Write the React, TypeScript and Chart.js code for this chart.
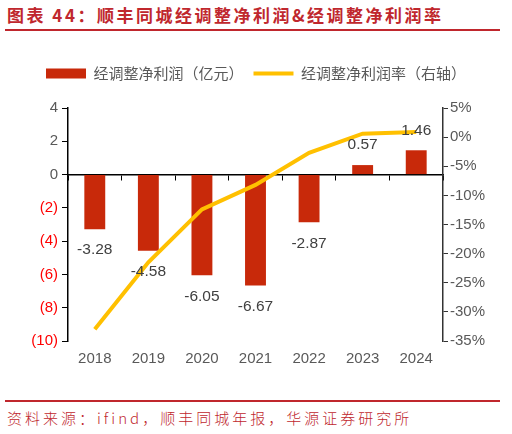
import { useEffect, useRef } from "react";
import { Chart, registerables } from "chart.js";

Chart.register(...registerables);

const years = ["2018", "2019", "2020", "2021", "2022", "2023", "2024"];
const adjNetProfit = [-3.28, -4.58, -6.05, -6.67, -2.87, 0.57, 1.46];
const adjNetMargin = [-33.0, -21.5, -12.4, -8.2, -2.7, 0.6, 0.9];
const profitLabel = "经调整净利润（亿元）";
const marginLabel = "经调整净利润率（右轴）";

const BAR_RED = "#C8290A";
const LINE_GOLD = "#FFC000";
const GRAY = "#595959";
const NUM_FONT = "'Liberation Sans', Arial, sans-serif";
const CJK_FONT = "'Noto Sans CJK SC', 'Noto Sans', sans-serif";

// value labels under negative bars / above positive ones
const barLabels = {
  id: "barLabels",
  afterDatasetsDraw(chart: Chart) {
    const meta = chart.getDatasetMeta(0);
    const ctx = chart.ctx;
    ctx.save();
    ctx.font = `15.5px ${NUM_FONT}`;
    ctx.fillStyle = "#404040";
    ctx.textAlign = "center";
    ctx.textBaseline = "middle";
    meta.data.forEach((el: any, i: number) => {
      const v = adjNetProfit[i];
      const y = v < 0 ? el.y + 21 : el.y - 20;
      ctx.fillText(v.toFixed(2), el.x, y);
    });
    ctx.restore();
  },
};

function ProfitChart() {
  const canvasRef = useRef<HTMLCanvasElement>(null);

  useEffect(() => {
    if (!canvasRef.current) return;
    const chart = new Chart(canvasRef.current, {
      type: "bar",
      data: {
        labels: years,
        datasets: [
          {
            type: "bar",
            label: profitLabel,
            data: adjNetProfit,
            backgroundColor: BAR_RED,
            xAxisID: "x",
            yAxisID: "y",
            barPercentage: 0.78,
            categoryPercentage: 0.5,
            order: 2,
          },
          {
            type: "line",
            label: marginLabel,
            data: adjNetMargin,
            borderColor: LINE_GOLD,
            backgroundColor: LINE_GOLD,
            borderWidth: 4,
            pointRadius: 0,
            tension: 0,
            xAxisID: "x",
            yAxisID: "y1",
            order: 1,
          },
        ],
      },
      options: {
        animation: false,
        responsive: true,
        maintainAspectRatio: false,
        layout: { padding: { top: 14, left: 0, right: 0, bottom: 0 } },
        plugins: {
          tooltip: { enabled: false },
          // empty title used as a spacer between legend and plot
          title: {
            display: true,
            text: "",
            position: "top",
            weight: 0,
            font: { size: 1, lineHeight: 1 },
            padding: { top: 0, bottom: 16 },
          },
          legend: {
            position: "top",
            labels: {
              usePointStyle: true,
              pointStyleWidth: 40,
              boxHeight: 10,
              padding: 10,
              color: GRAY,
              font: { family: CJK_FONT, size: 15 },
              generateLabels: () => [
                {
                  text: profitLabel,
                  fillStyle: BAR_RED,
                  strokeStyle: BAR_RED,
                  lineWidth: 0,
                  pointStyle: "rect",
                  datasetIndex: 0,
                  fontColor: GRAY,
                },
                {
                  text: marginLabel,
                  fillStyle: LINE_GOLD,
                  strokeStyle: LINE_GOLD,
                  lineWidth: 4,
                  pointStyle: "line",
                  datasetIndex: 1,
                  fontColor: GRAY,
                },
              ],
            },
          },
        },
        scales: {
          x: {
            position: "bottom",
            offset: true,
            grid: { display: false, drawTicks: false },
            border: { display: false },
            ticks: {
              color: GRAY,
              padding: 9,
              font: { family: NUM_FONT, size: 15 },
            },
            afterFit: (s: any) => {
              s.height = 30;
            },
          },
          x2: {
            type: "category",
            position: { y: 0 },
            offset: true,
            grid: {
              offset: true,
              drawOnChartArea: false,
              drawTicks: true,
              tickLength: 5,
              color: "#000",
              lineWidth: 1,
            },
            border: { display: true, color: "#000", width: 1.5 },
            ticks: { display: false },
          },
          y: {
            position: "left",
            min: -10,
            max: 4,
            ticks: {
              stepSize: 2,
              padding: 4,
              font: { family: NUM_FONT, size: 15 },
              color: (c: any) => (c.tick.value < 0 ? "#FF0000" : GRAY),
              callback: (v: any) =>
                Number(v) < 0 ? `(${Math.abs(Number(v))})` : `${v}`,
            },
            grid: {
              drawOnChartArea: false,
              tickLength: 6,
              color: "#000",
            },
            border: { display: true, color: "#000", width: 1.5 },
            afterFit: (s: any) => {
              s.width = 68;
            },
          },
          y1: {
            position: "right",
            min: -35,
            max: 5,
            ticks: {
              stepSize: 5,
              padding: 2,
              color: GRAY,
              font: { family: NUM_FONT, size: 15 },
              callback: (v: any) => `${v}%`,
            },
            grid: {
              drawOnChartArea: false,
              tickLength: 5,
              color: "#333",
            },
            border: { display: true, color: "#333", width: 1.5 },
            afterFit: (s: any) => {
              s.width = 69;
            },
          },
        },
      },
      plugins: [barLabels],
    });
    return () => chart.destroy();
  }, []);

  return <canvas ref={canvasRef} />;
}

export default function App() {
  return (
    <div
      style={{
        position: "fixed",
        left: 0,
        top: 0,
        width: 512,
        height: 434,
        background: "#fff",
        overflow: "hidden",
      }}
    >
      <div
        style={{
          position: "absolute",
          left: 7,
          top: 3,
          fontFamily: CJK_FONT,
          fontWeight: 700,
          fontSize: 17,
          letterSpacing: 2.5,
          color: "#C0272D",
          whiteSpace: "nowrap",
          lineHeight: "24px",
        }}
      >
        图表 44：顺丰同城经调整净利润&amp;经调整净利润率
      </div>
      <div
        style={{
          position: "absolute",
          left: 5,
          top: 29,
          width: 495,
          height: 2,
          background: "#C0272D",
        }}
      />
      <div
        style={{ position: "absolute", left: 0, top: 42, width: 512, height: 329 }}
      >
        <ProfitChart />
      </div>
      <div
        style={{
          position: "absolute",
          left: 5,
          top: 400,
          width: 495,
          height: 1.5,
          background: "#C0272D",
        }}
      />
      <div
        style={{
          position: "absolute",
          left: 7,
          top: 407,
          fontFamily: CJK_FONT,
          fontWeight: 300,
          fontSize: 15,
          letterSpacing: 3,
          color: "#C0272D",
          whiteSpace: "nowrap",
          lineHeight: "22px",
        }}
      >
        资料来源：ifind，顺丰同城年报，华源证券研究所
      </div>
    </div>
  );
}
